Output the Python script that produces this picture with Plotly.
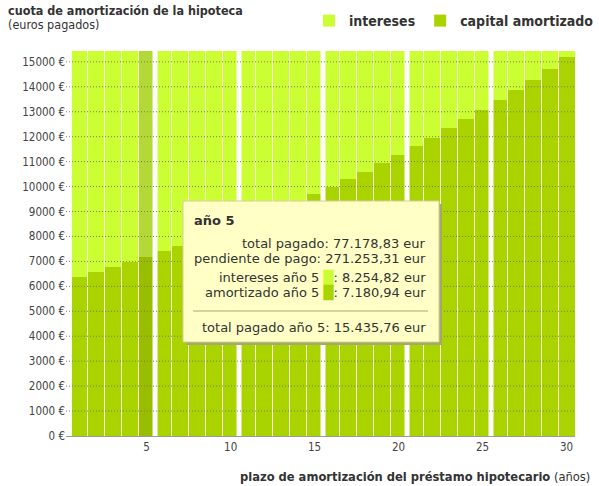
import plotly.graph_objects as go

# año del préstamo
YEARS = list(range(1, 31))
# capital amortizado cada año (euros)
CAPITAL = [6368, 6560, 6760, 6968, 7180.94, 7400, 7626, 7860, 8100, 8350,
           8600, 8870, 9130, 9410, 9690, 9990, 10290, 10600, 10930, 11260,
           11610, 11960, 12330, 12690, 13070, 13460, 13860, 14290, 14710, 15190]
# intereses pagados cada año (euros)
INTERESES = [9068, 8876, 8676, 8468, 8254.82, 8036, 7810, 7576, 7336, 7086,
             6836, 6566, 6306, 6026, 5746, 5446, 5146, 4836, 4506, 4176,
             3826, 3476, 3106, 2746, 2366, 1976, 1576, 1146, 726, 246]
CUOTA = 15435.76
Y_TICKS = list(range(0, 16000, 1000))
Y_LABELS = ['%d €' % v for v in Y_TICKS]
X_TICKS = [5, 10, 15, 20, 25, 30]

SEL_YEAR = 5
TOTAL_PAGADO = 77178.83
PENDIENTE = 271253.31

FONT = "DejaVu Sans Condensed, DejaVu Sans, sans-serif"
TIP_FONT = "DejaVu Sans, sans-serif"
C_INT, C_CAP = '#ccff33', '#aad400'
C_INT_SEL, C_CAP_SEL = '#b2d935', '#99bd00'


def eur(v):
    s = '{:,.2f}'.format(v)
    return s.replace(',', 'X').replace('.', ',').replace('X', '.')


# plot area in pixels
W, H = 599, 486
L, R, T, B = 66, 24, 51, 50
PW, PH = W - L - R, H - T - B


def px(x):
    return (x - L) / PW


def py(y):
    return (H - B - y) / PH


cap_colors = [C_CAP_SEL if y == SEL_YEAR else C_CAP for y in YEARS]
int_colors = [C_INT_SEL if y == SEL_YEAR else C_INT for y in YEARS]

fig = go.Figure()
fig.add_trace(go.Bar(x=YEARS, y=CAPITAL, name='capital amortizado',
                     marker=dict(color=cap_colors, line=dict(width=0))))
fig.add_trace(go.Bar(x=YEARS, y=INTERESES, name='intereses',
                     marker=dict(color=int_colors, line=dict(width=0))))

shapes = []
# pale background behind the bars
shapes.append(dict(type='rect', layer='below', xref='x', yref='paper',
                   x0=YEARS[0] - 0.5, x1=YEARS[-1] + 0.5, y0=0, y1=1,
                   fillcolor='#f6fbd8', line=dict(width=0)))
# white gaps every five years
for yr in YEARS[4:-1:5]:
    shapes.append(dict(type='rect', layer='above', xref='x', yref='paper',
                       xsizemode='pixel', xanchor=yr + 0.5, x0=-2.5, x1=2.5,
                       y0=0, y1=1, fillcolor='white', line=dict(width=0)))
# dotted grid drawn over the bars
for v in Y_TICKS[1:]:
    shapes.append(dict(type='line', layer='above', xref='paper', yref='y',
                       x0=0, x1=1, y0=v, y1=v,
                       line=dict(color='#7a7a6a', width=1, dash='1px,2px')))

# tooltip box
bx0, bx1, by0, by1 = 183, 439, 201, 342
shapes.append(dict(type='rect', layer='above', xref='paper', yref='paper',
                   x0=px(bx0 + 3), x1=px(bx1 + 3), y0=py(by0 + 3), y1=py(by1 + 3),
                   fillcolor='#a4a86a', line=dict(width=0)))
shapes.append(dict(type='rect', layer='above', xref='paper', yref='paper',
                   x0=px(bx0), x1=px(bx1), y0=py(by0), y1=py(by1),
                   fillcolor='#ffffc6', line=dict(color='#d2d296', width=1)))
shapes.append(dict(type='line', layer='above', xref='paper', yref='paper',
                   x0=px(193), x1=px(428), y0=py(311), y1=py(311),
                   line=dict(color='#a8a878', width=1)))

i = YEARS.index(SEL_YEAR)
sw_int = "<span style='color:%s'>█</span>" % C_INT
sw_cap = "<span style='color:%s'>█</span>" % C_CAP
tip_lines = [
    ('total pagado: %s eur' % eur(TOTAL_PAGADO), 243),
    ('pendiente de pago: %s eur' % eur(PENDIENTE), 258),
    ('intereses año %d %s: %s eur' % (SEL_YEAR, sw_int, eur(INTERESES[i])), 277),
    ('amortizado año %d %s: %s eur' % (SEL_YEAR, sw_cap, eur(CAPITAL[i])), 292),
    ('total pagado año %d: %s eur' % (SEL_YEAR, eur(CUOTA)), 327),
]
annotations = [dict(text='<b>año %d</b>' % SEL_YEAR, xref='paper', yref='paper',
                    x=px(192), y=py(220), xanchor='left', yanchor='middle',
                    showarrow=False, font=dict(family=TIP_FONT, size=13, color='#333'))]
for txt, yy in tip_lines:
    annotations.append(dict(text=txt, xref='paper', yref='paper',
                            x=px(428), y=py(yy), xanchor='right', yanchor='middle',
                            showarrow=False,
                            font=dict(family=TIP_FONT, size=13, color='#333')))
annotations.append(dict(text='<b>plazo de amortización del préstamo hipotecario</b> (años)',
                        xref='paper', yref='paper', x=px(592), y=py(477),
                        xanchor='right', yanchor='middle', showarrow=False,
                        font=dict(size=12.8, color='#333')))
annotations.append(dict(text='<b>cuota de amortización de la hipoteca</b>',
                        xref='paper', yref='paper', x=px(6), y=py(11),
                        xanchor='left', yanchor='middle', showarrow=False,
                        font=dict(size=12.5, color='#333')))
annotations.append(dict(text='(euros pagados)',
                        xref='paper', yref='paper', x=px(6), y=py(25),
                        xanchor='left', yanchor='middle', showarrow=False,
                        font=dict(size=12.5, color='#333')))

fig.update_layout(
    width=W, height=H,
    margin=dict(l=L, r=R, t=T, b=B, autoexpand=False),
    barmode='stack', bargap=0.06,
    paper_bgcolor='white', plot_bgcolor='white',
    font=dict(family=FONT, color='#333'),
    legend=dict(orientation='h', traceorder='reversed', xref='paper', yref='paper',
                x=px(599), y=py(21), xanchor='right', yanchor='middle',
                font=dict(size=14, color='#333', weight='bold'), itemwidth=30,
                bgcolor='rgba(0,0,0,0)'),
    xaxis=dict(range=[0.2, 30.5], tickvals=X_TICKS, showgrid=False, zeroline=False,
               showline=True, linecolor='#9a9a9a', ticks='',
               tickfont=dict(size=11.5, color='#444')),
    yaxis=dict(range=[0, CUOTA], tickvals=Y_TICKS, ticktext=Y_LABELS, showgrid=False,
               zeroline=False, showline=False, ticks='',
               tickfont=dict(size=11.5, color='#444')),
    shapes=shapes, annotations=annotations,
    hovermode=False, showlegend=True,
)

fig.write_html("out.html", config={'displayModeBar': False},
               post_script="document.body.style.margin='0';")
